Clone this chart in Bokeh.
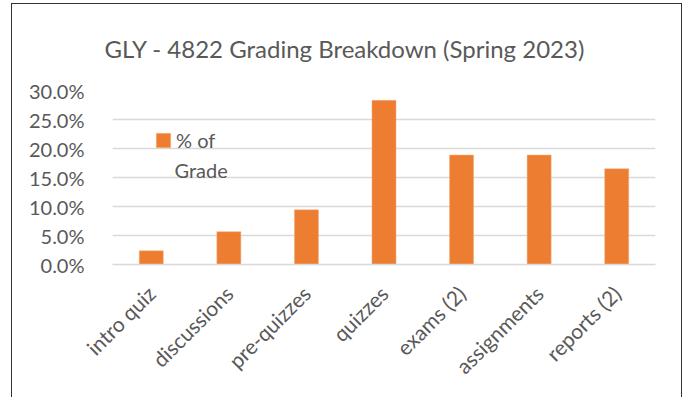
from math import pi
from bokeh.plotting import figure
from bokeh.models import (FactorRange, Range1d, FixedTicker, NumeralTickFormatter,
                          Legend, LegendItem, ColumnDataSource, Label)
from bokeh.embed import file_html
from bokeh.resources import INLINE

categories = ["intro quiz", "discussions", "pre-quizzes", "quizzes",
              "exams (2)", "assignments", "reports (2)"]
pct_of_grade = [0.0236, 0.0566, 0.0943, 0.2830, 0.1887, 0.1887, 0.1651]
y_ticks = [0.0, 0.05, 0.10, 0.15, 0.20, 0.25, 0.30]
legend_label_lines = ["% of", "Grade"]

FONT = "Lato"
GREY = "#595959"

src = ColumnDataSource(dict(cat=categories, val=pct_of_grade))

p = figure(x_range=FactorRange(*categories), y_range=Range1d(0, 0.30),
           width=671, height=394, output_backend="svg", toolbar_location=None,
           min_border_left=100, min_border_right=28, min_border_top=85,
           min_border_bottom=134)
p.margin = (3, 0, 0, 11)

r = p.vbar(x="cat", top="val", width=0.31, source=src,
           fill_color="#ED7D31", line_color="#F4B183", line_width=0.5)

p.title.text = "GLY - 4822 Grading Breakdown (Spring 2023)"
p.title.text_font = FONT
p.title.text_font_size = "24px"
p.title.text_color = GREY
p.title.text_font_style = "normal"
p.title.align = "left"
p.title.offset = -8
p.title.standoff = 55

p.outline_line_color = None
p.background_fill_color = "white"
p.border_fill_color = "white"

p.yaxis.ticker = FixedTicker(ticks=y_ticks)
p.yaxis.formatter = NumeralTickFormatter(format="0.0%")
p.yaxis.axis_line_color = None
p.yaxis.major_tick_line_color = None
p.yaxis.minor_tick_line_color = None
p.yaxis.major_label_text_font = FONT
p.yaxis.major_label_text_font_size = "20px"
p.yaxis.major_label_text_color = GREY
p.yaxis.major_label_standoff = 22

p.xaxis.axis_line_color = "#D9D9D9"
p.xaxis.axis_line_width = 1.5
p.xaxis.major_tick_line_color = None
p.xaxis.minor_tick_line_color = None
p.xaxis.major_label_orientation = pi / 4
p.xaxis.major_label_text_font = FONT
p.xaxis.major_label_text_font_size = "21px"
p.xaxis.major_label_text_color = GREY
p.xaxis.major_label_standoff = 19

p.xgrid.grid_line_color = None
p.ygrid.grid_line_color = "#D9D9D9"
p.ygrid.grid_line_width = 1.5

legend = Legend(items=[LegendItem(label=legend_label_lines[0], renderers=[r])],
                location=(42, 112), border_line_color=None,
                background_fill_alpha=0, padding=0, margin=0,
                glyph_width=18, glyph_height=18, label_standoff=4,
                label_text_font=FONT, label_text_font_size="20px",
                label_text_color=GREY)
p.add_layout(legend, "center")

p.add_layout(Label(x=62, y=95, x_units="screen", y_units="screen",
                   text=legend_label_lines[1], text_font=FONT,
                   text_font_size="20px", text_color=GREY,
                   text_baseline="middle", text_align="left"))

p.styles = {"border-top": "1.5px solid #333333",
            "border-left": "1.5px solid #333333",
            "border-right": "1.5px solid #333333"}

open("out.html", "w").write(file_html(p, INLINE))
